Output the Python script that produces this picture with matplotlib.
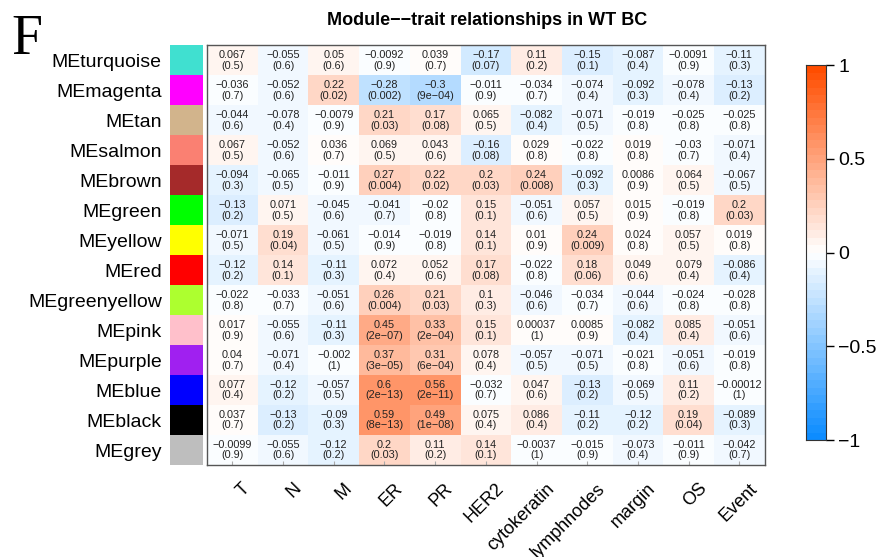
import numpy as np
import matplotlib
matplotlib.use("Agg")
import matplotlib.pyplot as plt
from matplotlib.colors import ListedColormap, LinearSegmentedColormap, BoundaryNorm

plt.rcParams['font.family'] = ['Liberation Sans', 'DejaVu Sans']
plt.rcParams['axes.unicode_minus'] = True

# 모듈 / 형질
modules = ["MEturquoise", "MEmagenta", "MEtan", "MEsalmon", "MEbrown", "MEgreen",
           "MEyellow", "MEred", "MEgreenyellow", "MEpink", "MEpurple", "MEblue",
           "MEblack", "MEgrey"]
module_colors = ["#40E0D0", "#FF00FF", "#D2B48C", "#FA8072", "#A52A2A", "#00FF00",
                 "#FFFF00", "#FF0000", "#ADFF2F", "#FFC0CB", "#A020F0", "#0000FF",
                 "#000000", "#BEBEBE"]
traits = ["T", "N", "M", "ER", "PR", "HER2", "cytokeratin", "lymphnodes",
          "margin", "OS", "Event"]

# 상관계수
cor = np.array([
    [0.067, -0.055, 0.05, -0.0092, 0.039, -0.17, 0.11, -0.15, -0.087, -0.0091, -0.11],
    [-0.036, -0.052, 0.22, -0.28, -0.3, -0.011, -0.034, -0.074, -0.092, -0.078, -0.13],
    [-0.044, -0.078, -0.0079, 0.21, 0.17, 0.065, -0.082, -0.071, -0.019, -0.025, -0.025],
    [0.067, -0.052, 0.036, 0.069, 0.043, -0.16, 0.029, -0.022, 0.019, -0.03, -0.071],
    [-0.094, -0.065, -0.011, 0.27, 0.22, 0.2, 0.24, -0.092, 0.0086, 0.064, -0.067],
    [-0.13, 0.071, -0.045, -0.041, -0.02, 0.15, -0.051, 0.057, 0.015, -0.019, 0.2],
    [-0.071, 0.19, -0.061, -0.014, -0.019, 0.14, 0.01, 0.24, 0.024, 0.057, 0.019],
    [-0.12, 0.14, -0.11, 0.072, 0.052, 0.17, -0.022, 0.18, 0.049, 0.079, -0.086],
    [-0.022, -0.033, -0.051, 0.26, 0.21, 0.1, -0.046, -0.034, -0.044, -0.024, -0.028],
    [0.017, -0.055, -0.11, 0.45, 0.33, 0.15, 0.00037, 0.0085, -0.082, 0.085, -0.051],
    [0.04, -0.071, -0.002, 0.37, 0.31, 0.078, -0.057, -0.071, -0.021, -0.051, -0.019],
    [0.077, -0.12, -0.057, 0.6, 0.56, -0.032, 0.047, -0.13, -0.069, 0.11, -0.00012],
    [0.037, -0.13, -0.09, 0.59, 0.49, 0.075, 0.086, -0.11, -0.12, 0.19, -0.089],
    [-0.0099, -0.055, -0.12, 0.2, 0.11, 0.14, -0.0037, -0.015, -0.073, -0.011, -0.042],
])

# p값 (표시용 문자열)
pval = [
    ["0.5", "0.6", "0.6", "0.9", "0.7", "0.07", "0.2", "0.1", "0.4", "0.9", "0.3"],
    ["0.7", "0.6", "0.02", "0.002", "9e-04", "0.9", "0.7", "0.4", "0.3", "0.4", "0.2"],
    ["0.6", "0.4", "0.9", "0.03", "0.08", "0.5", "0.4", "0.5", "0.8", "0.8", "0.8"],
    ["0.5", "0.6", "0.7", "0.5", "0.6", "0.08", "0.8", "0.8", "0.8", "0.7", "0.4"],
    ["0.3", "0.5", "0.9", "0.004", "0.02", "0.03", "0.008", "0.3", "0.9", "0.5", "0.5"],
    ["0.2", "0.5", "0.6", "0.7", "0.8", "0.1", "0.6", "0.5", "0.9", "0.8", "0.03"],
    ["0.5", "0.04", "0.5", "0.9", "0.8", "0.1", "0.9", "0.009", "0.8", "0.5", "0.8"],
    ["0.2", "0.1", "0.3", "0.4", "0.6", "0.08", "0.8", "0.06", "0.6", "0.4", "0.4"],
    ["0.8", "0.7", "0.6", "0.004", "0.03", "0.3", "0.6", "0.7", "0.6", "0.8", "0.8"],
    ["0.9", "0.6", "0.3", "2e-07", "2e-04", "0.1", "1", "0.9", "0.4", "0.4", "0.6"],
    ["0.7", "0.4", "1", "3e-05", "6e-04", "0.4", "0.5", "0.5", "0.8", "0.6", "0.8"],
    ["0.4", "0.2", "0.5", "2e-13", "2e-11", "0.7", "0.6", "0.2", "0.5", "0.2", "1"],
    ["0.7", "0.2", "0.3", "8e-13", "1e-08", "0.4", "0.4", "0.2", "0.2", "0.04", "0.3"],
    ["0.9", "0.6", "0.2", "0.03", "0.2", "0.1", "1", "0.9", "0.4", "0.9", "0.7"],
]

# blueWhiteRed(50) 비슷한 단계형 컬러맵
base = LinearSegmentedColormap.from_list(
    "bwr50", [(0.05, 0.55, 1.0), (1.0, 1.0, 1.0), (1.0, 0.3, 0.0)])
cmap = ListedColormap(base(np.linspace(0, 1, 50)))
norm = BoundaryNorm(np.linspace(-1, 1, 51), 50)

def fmt(v):
    s = f"{v:.2g}"
    return s.replace("-", "\u2212")

fig = plt.figure(figsize=(8.77, 5.57), dpi=100)

# 히트맵
ax = fig.add_axes([0.236, 0.165, 0.636, 0.754])
nr, nc = cor.shape
ax.pcolormesh(np.arange(nc + 1), np.arange(nr + 1), cor, cmap=cmap, norm=norm)
ax.set_xlim(0, nc)
ax.set_ylim(nr, 0)
for i in range(nr):
    for j in range(nc):
        txt = fmt(cor[i, j]) + "\n(" + pval[i][j].replace("-", "\u2212") + ")"
        ax.text(j + 0.5, i + 0.5, txt, ha='center', va='center',
                fontsize=7.8, linespacing=1.1, color='#222222')
ax.set_yticks([])
ax.set_xticks(np.arange(nc) + 0.5)
ax.set_xticklabels([])
ax.tick_params(axis='x', length=3, direction='in', color='#aaaaaa')
for s in ax.spines.values():
    s.set_color('#555555')
    s.set_linewidth(1.0)

# 열 라벨 (45도 회전)
for j, t in enumerate(traits):
    ax.annotate(t, xy=(j + 0.5, nr), xycoords='data',
                xytext=(11, -15), textcoords='offset points',
                rotation=45, ha='right', va='center', rotation_mode='anchor',
                fontsize=13)

# 모듈 색 막대
axc = fig.add_axes([0.194, 0.165, 0.0376, 0.754])
axc.pcolormesh(np.arange(2), np.arange(nr + 1),
               np.arange(nr).reshape(-1, 1),
               cmap=ListedColormap(module_colors), vmin=-0.5, vmax=nr - 0.5)
axc.set_xlim(0, 1)
axc.set_ylim(nr, 0)
axc.set_xticks([])
axc.set_yticks(np.arange(nr) + 0.5)
axc.set_yticklabels(modules, fontsize=14)
axc.tick_params(axis='y', length=0, pad=6)
for s in axc.spines.values():
    s.set_visible(False)

# 컬러바
axb = fig.add_axes([0.919, 0.21, 0.0228, 0.673])
edges = np.linspace(-1, 1, 51)
axb.pcolormesh(np.arange(2), edges, ((edges[:-1] + edges[1:]) / 2).reshape(-1, 1),
               cmap=cmap, norm=norm)
axb.set_xlim(0, 1)
axb.set_ylim(-1, 1)
axb.set_xticks([])
axb.yaxis.tick_right()
axb.set_yticks([-1, -0.5, 0, 0.5, 1])
axb.set_yticklabels([fmt(v) if v != 0 else "0" for v in [-1, -0.5, 0, 0.5, 1]],
                    fontsize=14)
axb.tick_params(axis='y', length=6, width=1, pad=3)
for s in axb.spines.values():
    s.set_color('#333333')

fig.text(0.555, 0.963, "Module\u2212\u2212trait relationships in WT BC",
         ha='center', va='center', fontsize=13, fontweight='bold')
fig.text(0.013, 0.928, "F", fontsize=40, family='Liberation Serif',
         ha='left', va='center')

fig.savefig("out.png", dpi=100)
